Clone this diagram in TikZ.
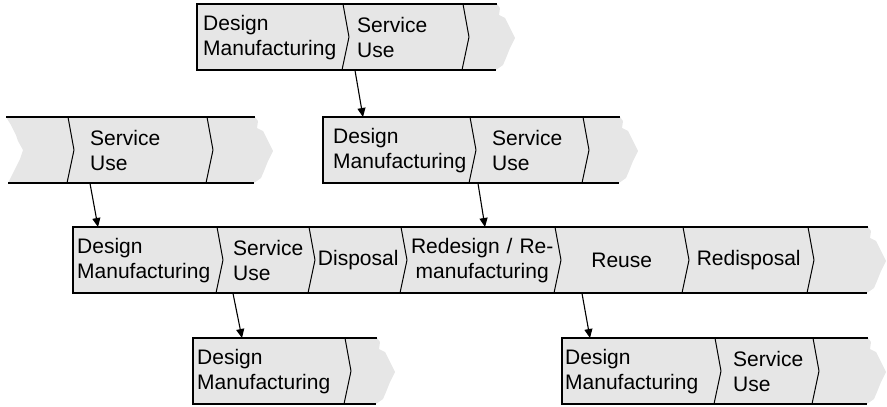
\documentclass[tikz,border=0pt]{standalone}
\usepackage{fontspec}
\setmainfont{Liberation Sans}
\usetikzlibrary{arrows.meta}
\definecolor{bandgray}{HTML}{E6E6E6}
\newcommand\bandbox[3]{%
  \fill[bandgray] (#1,#3) -- (#2,#3) -- ++(3,4) -- ++(-1,7) -- ++(6,3) -- ++(5,10) -- ++(5,10) -- ++(-5,10) -- ++(-4,10) -- ++(-3,7) -- ++(-7,5) -- (#1,#3+66) -- cycle;
  \draw[edge] (#2,#3) -- (#1,#3) -- (#1,#3+66) -- (#2-1,#3+66);
}
\newcommand\chevmark[2]{\draw[chev] (#1,#2) -- (#1+6,#2+33) -- (#1-1,#2+66);}
\begin{document}
\begin{tikzpicture}[x=1pt,y=-1pt,
  edge/.style={line width=1.4pt, line join=miter},
  chev/.style={line width=1pt, line join=round},
  seg/.style={anchor=north west, inner sep=0pt, minimum height=66pt, align=left, font=\fontsize{21pt}{25pt}\selectfont},
  segc/.style={seg, align=center},
  flow/.style={line width=1.1pt, -{Triangle[length=9pt,width=8pt]}},
]
\useasboundingbox (0,0) rectangle (887,407);

% row 1
\bandbox{197}{497}{4}
\chevmark{343}{4}
\chevmark{463}{4}
% row 2 right
\bandbox{323}{620}{117}
\chevmark{470}{117}
\chevmark{583}{117}
% row 2 left
\fill[bandgray] (255,117) -- ++(3,4) -- ++(-1,7) -- ++(6,3) -- ++(5,10) -- ++(5,10) -- ++(-5,10) -- ++(-4,10) -- ++(-3,7) -- ++(-7,5) -- (8,183) -- ++(4,-8) -- ++(4,-8) -- ++(4,-8) -- ++(3,-9) -- ++(-5,-9) -- ++(-2,-6) -- ++(-5,-10) -- ++(-5,-8) -- cycle;
\draw[edge] (6,117) -- (255,117);
\draw[edge] (8,183) -- (254,183);
\chevmark{68}{117}
\chevmark{207}{117}
% row 3
\bandbox{73}{868}{227}
\chevmark{217}{227}
\chevmark{309}{227}
\chevmark{401}{227}
\chevmark{555}{227}
\chevmark{683}{227}
\chevmark{808}{227}
% row 4 left
\bandbox{193}{377}{338}
\chevmark{345}{338}
% row 4 right
\bandbox{562}{868}{338}
\chevmark{715}{338}
\chevmark{813}{338}

% texts
\node[seg, text width=140pt] (r1a) at (203,4) {Design\\Manufacturing};
\node[seg, text width=104pt] (r1b) at (357,4) {Service\\Use};
\node[seg, text width=115pt] (r2la) at (90,117) {Service\\Use};
\node[seg, text width=137pt] (r2ra) at (333,117) {Design\\Manufacturing};
\node[seg, text width=89pt] (r2rb) at (492,117) {Service\\Use};
\node[seg, text width=138pt] (r3a) at (77,227) {Design\\Manufacturing};
\node[seg, text width=74pt] (r3b) at (233,227) {Service\\Use};
\node[segc, text width=86pt] (r3c) at (315,227) {Disposal};
\node[segc, text width=146pt] (r3d) at (409,227) {Redesign / Re-\\manufacturing};
\node[segc, text width=123pt] (r3e) at (560,227) {Reuse};
\node[segc, text width=119pt] (r3f) at (689,227) {Redisposal};
\node[seg, text width=146pt] (r4la) at (197,338) {Design\\Manufacturing};
\node[seg, text width=148pt] (r4ra) at (565,338) {Design\\Manufacturing};
\node[seg, text width=78pt] (r4rb) at (733,338) {Service\\Use};

% arrows
\draw[flow] ([xshift=-2pt]r1b.south west) -- ([xshift=30pt]r2ra.north west);
\draw[flow] (r2la.south west) -- ([xshift=21pt]r3a.north west);
\draw[flow] ([xshift=-14pt]r2rb.south west) -- ([xshift=76pt]r3d.north west);
\draw[flow] (r3b.south west) -- ([xshift=45pt]r4la.north west);
\draw[flow] ([xshift=22pt]r3e.south west) -- ([xshift=25pt]r4ra.north west);
\end{tikzpicture}
\end{document}
